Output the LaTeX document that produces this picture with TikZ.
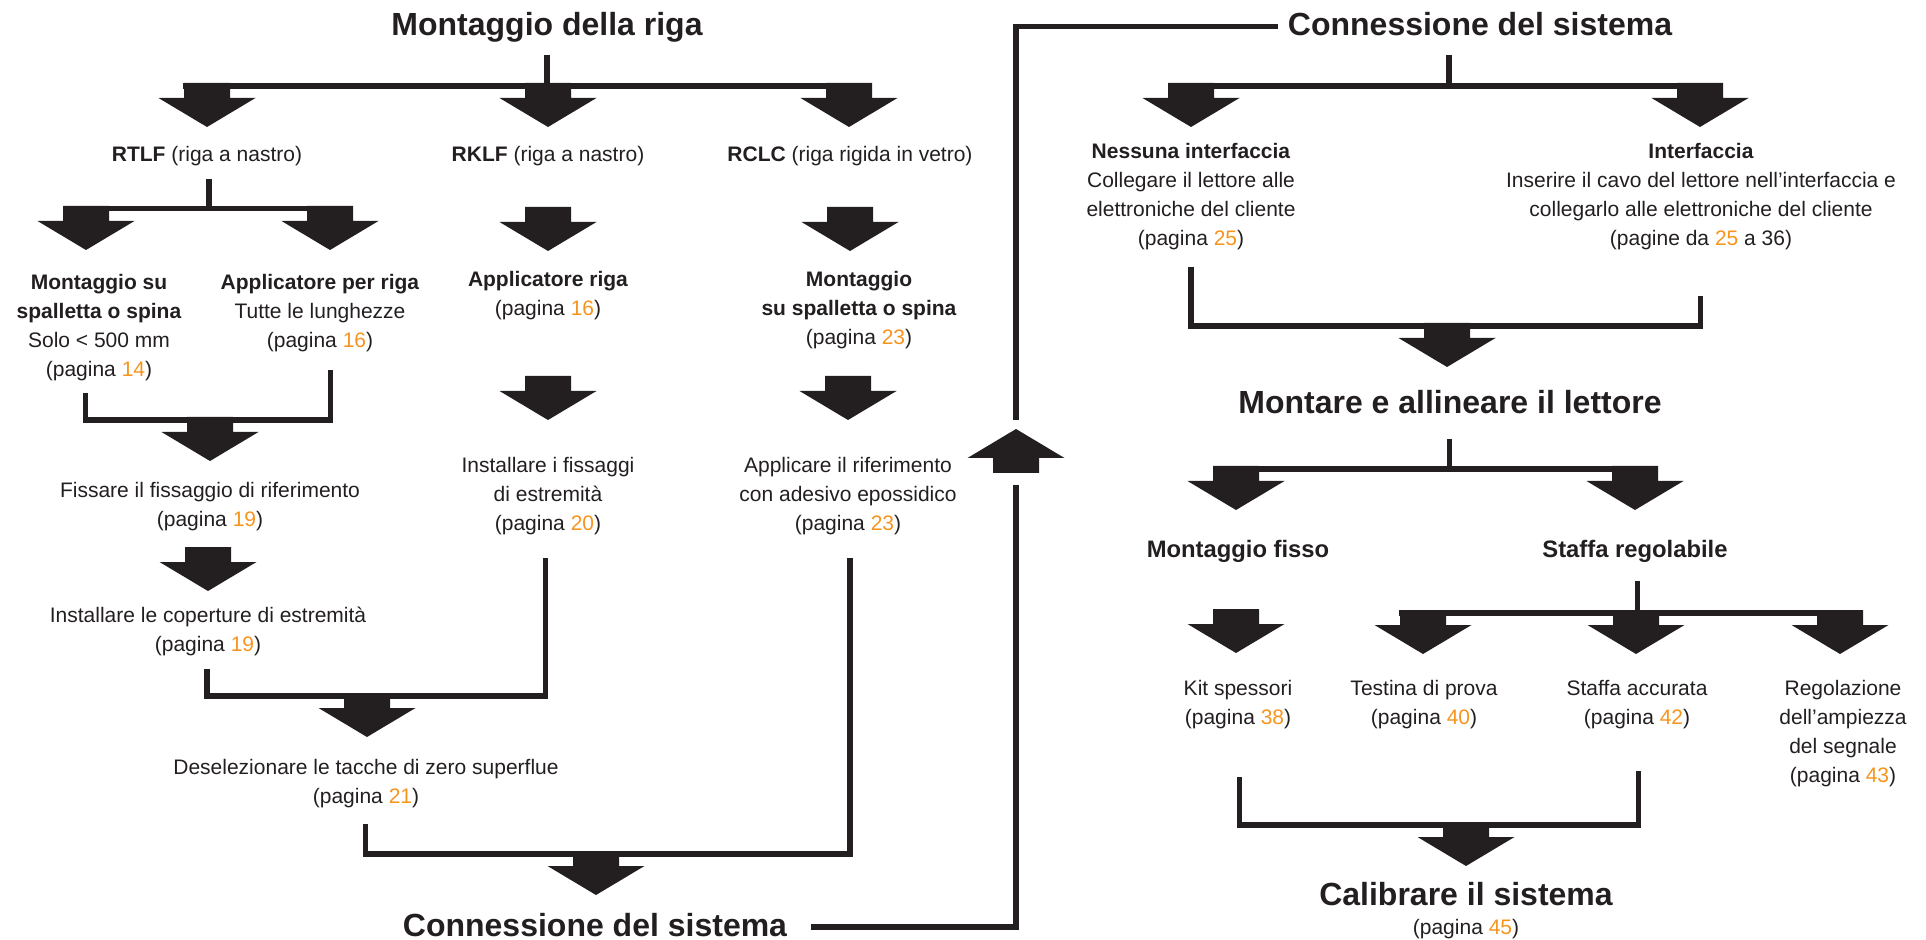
\documentclass[tikz,border=0pt]{standalone}
\usepackage{fontspec}
\setmainfont{Liberation Sans}
\definecolor{ink}{RGB}{35,31,32}
\definecolor{pgorange}{RGB}{247,148,29}
\newcommand\pnum[1]{\textcolor{pgorange}{#1}}

\begin{document}
\begin{tikzpicture}[x=0.5pt,y=-0.5pt,color=ink,
        ln/.style={line width=2.75pt},
        txt/.style={align=center, inner sep=0pt, anchor=north,
                        font=\fontsize{10.5}{14.5}\selectfont},
        lbl/.style={inner sep=0pt, anchor=base,
                        font=\fontsize{10.5}{14.5}\selectfont},
        sub/.style={inner sep=0pt, anchor=base,
                        font=\fontsize{11.9}{14.5}\selectfont\bfseries},
        ttl/.style={inner sep=0pt, anchor=base,
                        font=\fontsize{16}{19}\selectfont\bfseries},
        darr/.pic={\fill (-23,0) -- (23,0) -- (23,15) -- (48.5,15)
                        -- (0,44) -- (-48.5,15) -- (-23,15) -- cycle;}]
    \useasboundingbox (0,0) rectangle (1926,940);

    % montaggio della riga
    \node[ttl] (mdr) at (547,36) {Montaggio della riga};
    \node[lbl] (rtlf) at (207,162) {\textbf{RTLF} (riga a nastro)};
    \node[lbl] (rklf) at (548,162) {\textbf{RKLF} (riga a nastro)};
    \node[lbl] (rclc) at (850,162) {\textbf{RCLC} (riga rigida in vetro)};
    \node[txt] (mss) at (99,274) {\textbf{Montaggio su}\\\textbf{spalletta o spina}\\Solo < 500 mm\\(pagina \pnum{14})};
    \node[txt] (apr) at (320,274) {\textbf{Applicatore per riga}\\Tutte le lunghezze\\(pagina \pnum{16})};
    \node[txt] (ar) at (548,271) {\textbf{Applicatore riga}\\(pagina \pnum{16})};
    \node[txt] (rmss) at (859,271) {\textbf{Montaggio}\\\textbf{su spalletta o spina}\\(pagina \pnum{23})};
    \node[txt] (fis) at (210,482) {Fissare il fissaggio di riferimento\\(pagina \pnum{19})};
    \node[txt] (ife) at (548,457) {Installare i fissaggi\\di estremità\\(pagina \pnum{20})};
    \node[txt] (are) at (848,457) {Applicare il riferimento\\con adesivo epossidico\\(pagina \pnum{23})};
    \node[txt] (ice) at (208,607) {Installare le coperture di estremità\\(pagina \pnum{19})};
    \node[txt] (dtz) at (366,759) {Deselezionare le tacche di zero superflue\\(pagina \pnum{21})};
    \node[ttl] (cds1) at (595,936) {Connessione del sistema};

    % connessione, lettore, calibrazione
    \node[ttl] (cds2) at (1480,36) {Connessione del sistema};
    \node[txt] (nif) at (1191,143) {\textbf{Nessuna interfaccia}\\Collegare il lettore alle\\elettroniche del cliente\\(pagina \pnum{25})};
    \node[txt] (ifc) at (1701,143) {\textbf{Interfaccia}\\Inserire il cavo del lettore nell’interfaccia e\\collegarlo alle elettroniche del cliente\\(pagine da \pnum{25} a 36)};
    \node[ttl] (mal) at (1450,414) {Montare e allineare il lettore};
    \node[sub] (mfx) at (1238,557) {Montaggio fisso};
    \node[sub] (sre) at (1635,557) {Staffa regolabile};
    \node[txt] (kit) at (1238,680) {Kit spessori\\(pagina \pnum{38})};
    \node[txt] (tdp) at (1424,680) {Testina di prova\\(pagina \pnum{40})};
    \node[txt] (sac) at (1637,680) {Staffa accurata\\(pagina \pnum{42})};
    \node[txt] (rda) at (1843,680) {Regolazione\\dell’ampiezza\\del segnale\\(pagina \pnum{43})};
    \node[ttl] (cal) at (1466,905) {Calibrare il sistema};
    \node[lbl] (calp) at (1466,934) {(pagina \pnum{45})};

    % bars and stems
    \coordinate (s1) at (547,55);      \coordinate (s1b) at (547,86);
    \coordinate (h1l) at (183,86);     \coordinate (h1r) at (872,86);
    \coordinate (s2) at (209,179);     \coordinate (s2b) at (209,208.5);
    \coordinate (h2l) at (63,208.5);   \coordinate (h2r) at (353,208.5);
    \coordinate (u1) at (85.5,393);    \coordinate (u2) at (330.5,370);
    \coordinate (m1) at (210,420);
    \coordinate (u3) at (207,669);     \coordinate (u4) at (545.5,558);
    \coordinate (m2) at (367,696);
    \coordinate (u5) at (365.5,824);   \coordinate (u6) at (850,558);
    \coordinate (m3) at (596,854);
    \coordinate (r1) at (811,927);     \coordinate (r2) at (1016,485);
    \coordinate (r3) at (1016,420);    \coordinate (r4) at (1278,26.5);
    \coordinate (s3) at (1449,55);     \coordinate (s3b) at (1449,86);
    \coordinate (h3l) at (1168,86);    \coordinate (h3r) at (1723,86);
    \coordinate (u7) at (1191,267);    \coordinate (u8) at (1700.5,296);
    \coordinate (m4) at (1447,326);
    \coordinate (s4) at (1449.5,439);  \coordinate (s4b) at (1449.5,469);
    \coordinate (h4l) at (1213,469);   \coordinate (h4r) at (1657,469);
    \coordinate (s5) at (1637.5,581);  \coordinate (s5b) at (1637.5,613);
    \coordinate (h5l) at (1399,613);   \coordinate (h5r) at (1862,613);
    \coordinate (u9) at (1239.5,777);  \coordinate (u10) at (1638.5,771);
    \coordinate (m5) at (1466,825);

    \draw[ln] (s1) -- (s1b) (h1l) -- (h1r);
    \draw[ln] (s2) -- (s2b) (h2l) -- (h2r);
    \draw[ln] (u1) |- (m1) -| (u2);
    \draw[ln] (u3) |- (m2) -| (u4);
    \draw[ln] (u5) |- (m3) -| (u6);
    \draw[ln] (r1) -| (r2) (r3) |- (r4);
    \draw[ln] (s3) -- (s3b) (h3l) -- (h3r);
    \draw[ln] (u7) |- (m4) -| (u8);
    \draw[ln] (s4) -- (s4b) (h4l) -- (h4r);
    \draw[ln] (s5) -- (s5b) (h5l) -- (h5r);
    \draw[ln] (u9) |- (m5) -| (u10);

    % block arrows
    \foreach \x/\y in {207/83, 548/83, 849/83, 86/206, 330/206, 548/207,
            850/207, 548/376, 848/376, 210/417, 208/547, 367/693, 596/851,
            1191/83, 1700/83, 1447/323, 1236/466, 1635/466, 1236/609,
            1423/610, 1636/610, 1840/610, 1466/822}
        \pic at (\x,\y) {darr};
    \pic[rotate=180] at (1016,473) {darr};
\end{tikzpicture}
\end{document}
